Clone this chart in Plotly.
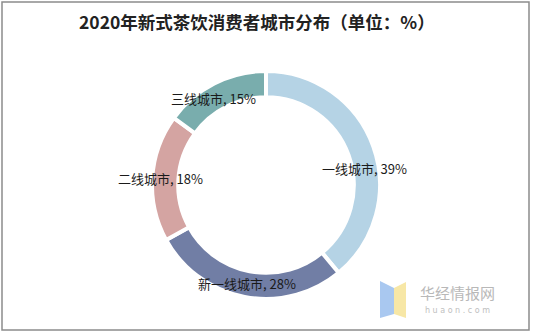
import math
import plotly.graph_objects as go

# City-tier share of new-style tea drink consumers, 2020 (%)
categories = ["一线城市", "新一线城市", "二线城市", "三线城市"]
shares = [39, 28, 18, 15]
colors = ["#b5d3e5", "#717ea5", "#d4a4a2", "#79adad"]

title_text = "2020年新式茶饮消费者城市分布（单位：%）"

W, H = 533, 334
cx, cy, r_out = 266, 185, 114
hole = 0.77

fig = go.Figure(go.Pie(
    labels=categories,
    values=shares,
    hole=hole,
    sort=False,
    direction="clockwise",
    rotation=0,
    marker=dict(colors=colors, line=dict(color="white", width=4)),
    textinfo="none",
    hoverinfo="label+percent",
    showlegend=False,
    domain=dict(x=[(cx - r_out) / W, (cx + r_out) / W],
                y=[1 - (cy + r_out) / H, 1 - (cy - r_out) / H]),
))

# Data labels sit on the ring at each slice's mid-angle
label_r = 100
nudges = [(4, -17), (0, 0), (-6, 0), (-7, -3)]
total = sum(shares)
acc = 0
annotations = []
for name, v, (dx, dy) in zip(categories, shares, nudges):
    mid = (acc + v / 2) / total * 2 * math.pi
    acc += v
    px = cx + label_r * math.sin(mid)
    py = cy - label_r * math.cos(mid)
    annotations.append(dict(
        x=(px + dx) / W, y=1 - (py - dy) / H, xref="paper", yref="paper",
        text=f"{name}, {v}%", showarrow=False,
        font=dict(family="Noto Sans CJK SC, sans-serif", size=13, color="#1a1a1a"),
        xanchor="center", yanchor="middle",
    ))

# Title
annotations.append(dict(
    x=257 / W, y=1 - 22 / H, xref="paper", yref="paper",
    text=f"<b>{title_text}</b>", showarrow=False,
    font=dict(family="Noto Sans CJK SC, serif", size=17.5, color="#222222"),
    xanchor="center", yanchor="middle",
))

# Source watermark
annotations.append(dict(
    x=457 / W, y=1 - 292 / H, xref="paper", yref="paper",
    text="华经情报网", showarrow=False,
    font=dict(family="Noto Sans CJK SC, sans-serif", size=15, color="#b8b8b8"),
    xanchor="center", yanchor="middle",
))
annotations.append(dict(
    x=457 / W, y=1 - 310 / H, xref="paper", yref="paper",
    text="h u a o n . c o m", showarrow=False,
    font=dict(family="DejaVu Sans, sans-serif", size=8, color="#c0c0c0"),
    xanchor="center", yanchor="middle",
))

def px_path(pts):
    return "M " + " L ".join(f"{x / W},{1 - y / H}" for x, y in pts) + " Z"

shapes = [
    # outer frame
    dict(type="rect", xref="paper", yref="paper",
         x0=2 / W, x1=529 / W, y0=1 - 330 / H, y1=1 - 2 / H,
         line=dict(color="#8c8c8c", width=1.5), fillcolor="rgba(0,0,0,0)"),
    # logo mark
    dict(type="path", xref="paper", yref="paper",
         path=px_path([(380, 281), (394, 288), (394, 314), (380, 318)]),
         fillcolor="#a9c8f0", line=dict(width=0)),
    dict(type="path", xref="paper", yref="paper",
         path=px_path([(394, 288), (406, 282), (406, 318), (394, 314)]),
         fillcolor="#f7e7a6", line=dict(width=0)),
]

fig.update_layout(
    width=W, height=H,
    margin=dict(l=0, r=0, t=0, b=0),
    paper_bgcolor="white",
    plot_bgcolor="white",
    annotations=annotations,
    shapes=shapes,
)

fig.write_html("out.html")
